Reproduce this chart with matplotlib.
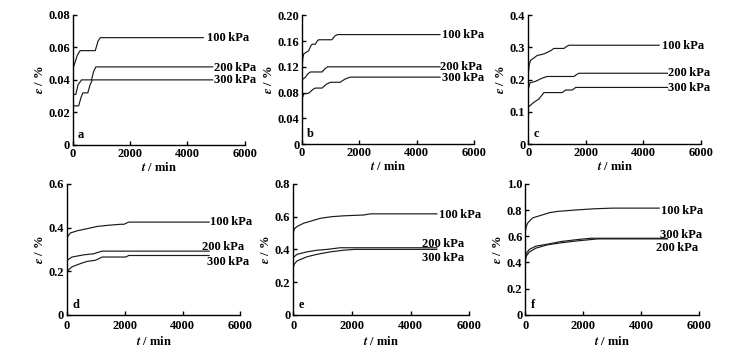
import matplotlib
matplotlib.use('Agg')
import matplotlib.pyplot as plt

plt.rcParams['font.family'] = ['Liberation Serif', 'DejaVu Serif']
plt.rcParams['font.weight'] = 'bold'
plt.rcParams['mathtext.fontset'] = 'stix'

# time (min) and strain (%), per panel and pressure
a_t_100 = [0, 20, 60, 150, 250, 780, 880, 960, 4550]
a_e_100 = [0.040, 0.048, 0.050, 0.055, 0.058, 0.058, 0.064, 0.066, 0.066]
a_t_200 = [0, 100, 180, 300, 650, 720, 800, 4880]
a_e_200 = [0.031, 0.031, 0.037, 0.040, 0.040, 0.045, 0.048, 0.048]
a_t_300 = [0, 200, 280, 350, 520, 600, 680, 4880]
a_e_300 = [0.024, 0.024, 0.029, 0.032, 0.032, 0.037, 0.040, 0.040]

b_t_100 = [0, 30, 60, 230, 300, 350, 460, 530, 580, 1040, 1150, 1240, 4815]
b_e_100 = [0.120, 0.135, 0.140, 0.145, 0.152, 0.155, 0.155, 0.160, 0.162, 0.162, 0.168, 0.170, 0.170]
b_t_200 = [0, 100, 200, 290, 700, 800, 890, 4815]
b_e_200 = [0.100, 0.103, 0.109, 0.112, 0.112, 0.117, 0.120, 0.120]
b_t_300 = [0, 60, 230, 380, 460, 700, 850, 990, 1330, 1500, 1680, 4815]
b_e_300 = [0.070, 0.078, 0.079, 0.085, 0.087, 0.087, 0.093, 0.096, 0.096, 0.101, 0.104, 0.104]

c_t_100 = [0, 30, 80, 310, 545, 780, 890, 1240, 1330, 1415, 4550]
c_e_100 = [0.215, 0.245, 0.260, 0.275, 0.280, 0.290, 0.297, 0.297, 0.303, 0.307, 0.307]
c_t_200 = [0, 58, 255, 490, 660, 1590, 1680, 1760, 4840]
c_e_200 = [0.170, 0.190, 0.195, 0.205, 0.210, 0.210, 0.216, 0.220, 0.220]
c_t_300 = [0, 200, 370, 545, 1180, 1300, 1530, 1650, 4840]
c_e_300 = [0.115, 0.130, 0.140, 0.160, 0.160, 0.168, 0.168, 0.176, 0.176]

d_t_100 = [0, 30, 115, 350, 700, 1040, 1390, 1850, 1970, 2140, 4920]
d_e_100 = [0.340, 0.360, 0.375, 0.385, 0.395, 0.405, 0.410, 0.415, 0.415, 0.425, 0.425]
d_t_200 = [0, 175, 580, 930, 1040, 1220, 4920]
d_e_200 = [0.250, 0.265, 0.275, 0.280, 0.285, 0.292, 0.292]
d_t_300 = [0, 40, 175, 465, 700, 985, 1220, 2030, 2140, 4920]
d_e_300 = [0.195, 0.205, 0.220, 0.235, 0.245, 0.250, 0.265, 0.265, 0.272, 0.272]

e_t_100 = [0, 40, 135, 360, 645, 930, 1325, 1720, 2400, 2630, 4890]
e_e_100 = [0.500, 0.525, 0.540, 0.560, 0.575, 0.590, 0.600, 0.605, 0.610, 0.617, 0.617]
e_t_200 = [0, 135, 475, 815, 1150, 1600, 4890]
e_e_200 = [0.350, 0.370, 0.385, 0.395, 0.400, 0.410, 0.410]
e_t_300 = [0, 40, 135, 475, 815, 1270, 1720, 2100, 4890]
e_e_300 = [0.290, 0.310, 0.330, 0.355, 0.370, 0.385, 0.395, 0.400, 0.400]

f_t_100 = [0, 30, 80, 250, 540, 830, 1115, 1690, 2380, 3000, 4620]
f_e_100 = [0.630, 0.670, 0.700, 0.740, 0.760, 0.780, 0.790, 0.800, 0.810, 0.815, 0.815]
f_t_300 = [0, 40, 140, 370, 770, 1230, 1800, 2260, 4900]
f_e_300 = [0.440, 0.470, 0.500, 0.525, 0.540, 0.560, 0.575, 0.585, 0.585]
f_t_200 = [0, 40, 140, 370, 770, 1230, 1800, 2260, 2500, 4900]
f_e_200 = [0.410, 0.450, 0.480, 0.510, 0.535, 0.550, 0.565, 0.575, 0.580, 0.580]

panels = [
    ('a', 0.08, [0, 0.02, 0.04, 0.06, 0.08], ['0', '0.02', '0.04', '0.06', '0.08'],
     [(a_t_100, a_e_100, '100 kPa', 4675, 0.066),
      (a_t_200, a_e_200, '200 kPa', 4920, 0.0475),
      (a_t_300, a_e_300, '300 kPa', 4920, 0.040)]),
    ('b', 0.20, [0, 0.04, 0.08, 0.12, 0.16, 0.20], ['0', '0.04', '0.08', '0.12', '0.16', '0.20'],
     [(b_t_100, b_e_100, '100 kPa', 4870, 0.170),
      (b_t_200, b_e_200, '200 kPa', 4800, 0.120),
      (b_t_300, b_e_300, '300 kPa', 4870, 0.103)]),
    ('c', 0.4, [0, 0.1, 0.2, 0.3, 0.4], ['0', '0.1', '0.2', '0.3', '0.4'],
     [(c_t_100, c_e_100, '100 kPa', 4660, 0.305),
      (c_t_200, c_e_200, '200 kPa', 4860, 0.222),
      (c_t_300, c_e_300, '300 kPa', 4860, 0.173)]),
    ('d', 0.6, [0, 0.2, 0.4, 0.6], ['0', '0.2', '0.4', '0.6'],
     [(d_t_100, d_e_100, '100 kPa', 4960, 0.425),
      (d_t_200, d_e_200, '200 kPa', 4690, 0.312),
      (d_t_300, d_e_300, '300 kPa', 4830, 0.242)]),
    ('e', 0.8, [0, 0.2, 0.4, 0.6, 0.8], ['0', '0.2', '0.4', '0.6', '0.8'],
     [(e_t_100, e_e_100, '100 kPa', 4950, 0.612),
      (e_t_200, e_e_200, '200 kPa', 4400, 0.435),
      (e_t_300, e_e_300, '300 kPa', 4400, 0.347)]),
    ('f', 1.0, [0, 0.2, 0.4, 0.6, 0.8, 1.0], ['0', '0.2', '0.4', '0.6', '0.8', '1.0'],
     [(f_t_100, f_e_100, '100 kPa', 4680, 0.795),
      (f_t_300, f_e_300, '300 kPa', 4640, 0.613),
      (f_t_200, f_e_200, '200 kPa', 4520, 0.511)]),
]

# axes rectangles in figure fraction (left, bottom, width, height)
rects = [
    (0.098, 0.592, 0.231, 0.366),
    (0.406, 0.594, 0.231, 0.363),
    (0.710, 0.594, 0.232, 0.363),
    (0.090, 0.113, 0.233, 0.369),
    (0.394, 0.113, 0.237, 0.369),
    (0.706, 0.113, 0.234, 0.369),
]

fs = 9

fig = plt.figure(figsize=(7.44, 3.55), dpi=100)

for i, ((letter, ymax, yticks, ylabels, curves), rect) in enumerate(zip(panels, rects)):
    ax = fig.add_axes(rect)
    for t, e, name, lx, ly in curves:
        ax.plot(t, e, color='#1a1a1a', lw=0.85)
        ax.text(lx, ly, name.replace(' ', '\u2009'), fontsize=fs, fontweight='bold',
                ha='left', va='center', clip_on=False)
    ax.set_xlim(0, 6000)
    ax.set_ylim(0, ymax)
    ax.set_xticks([0, 2000, 4000, 6000])
    ax.set_xticklabels(['0', '2000', '4000', '6000'])
    ax.set_yticks(yticks)
    ax.set_yticklabels(ylabels)
    ax.spines['top'].set_visible(False)
    ax.spines['right'].set_visible(False)
    for s in ['left', 'bottom']:
        ax.spines[s].set_linewidth(1.0)
    # bottom row has a bit more room under the axis
    xpad = 2 if i < 3 else 4
    ax.tick_params(axis='y', direction='in', length=3, width=1.0, labelsize=fs, pad=2)
    ax.tick_params(axis='x', direction='in', length=3, width=1.0, labelsize=fs, pad=xpad)
    for lab in ax.get_xticklabels() + ax.get_yticklabels():
        lab.set_fontweight('bold')
    ax.text(0.03, 0.03, letter, transform=ax.transAxes, fontsize=fs, fontweight='bold',
            ha='left', va='bottom')
    ax.set_xlabel(r'$t$ / min', fontsize=fs, fontweight='bold', labelpad=1 if i < 3 else 2)
    ax.set_ylabel(r'$\varepsilon$ / %', fontsize=fs, fontweight='bold', labelpad=2)

fig.savefig('out.png', dpi=100, facecolor='white')
